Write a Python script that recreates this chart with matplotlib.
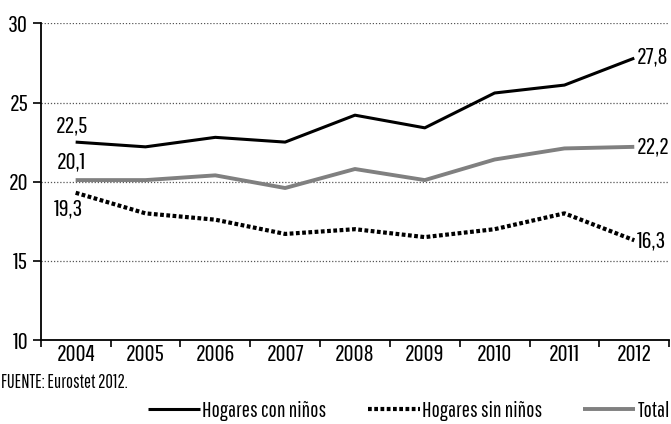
import matplotlib
matplotlib.use("Agg")
import matplotlib.pyplot as plt

years = ["2004", "2005", "2006", "2007", "2008", "2009", "2010", "2011", "2012"]
con_ninos = [22.5, 22.2, 22.8, 22.5, 24.2, 23.4, 25.6, 26.1, 27.8]
sin_ninos = [19.3, 18.0, 17.6, 16.7, 17.0, 16.5, 17.0, 18.0, 16.3]
total = [20.1, 20.1, 20.4, 19.6, 20.8, 20.1, 21.4, 22.1, 22.2]
yticks = [10, 15, 20, 25, 30]

fam = ['Pathway Gothic One', 'DejaVu Sans']
plt.rcParams['font.family'] = fam

fig = plt.figure(figsize=(6.71, 4.24), dpi=100)
ax = fig.add_axes([0.0607, 0.198, 0.9366, 0.747])
x = list(range(len(years)))

ax.plot(x, con_ninos, color='black', lw=2.2, solid_capstyle='butt', label='Hogares con niños', zorder=3)
ax.plot(x, sin_ninos, color='black', lw=3.0, linestyle=(0, (0.9, 0.6)), dash_capstyle='butt', label='Hogares sin niños', zorder=3)
ax.plot(x, total, color='#808080', lw=2.8, solid_capstyle='butt', label='Total', zorder=3)

ax.set_xlim(-0.5, 8.5)
ax.set_ylim(10, 30)
ax.set_yticks(yticks)
ax.set_yticklabels([str(v) for v in yticks])
ax.set_xticks([i + 0.5 for i in range(-1, 9)], minor=False)
ax.set_xticklabels([])
ax.set_xticks(x, minor=True)
ax.set_xticklabels(years, minor=True)
fs = 17.5
ax.tick_params(axis='x', which='major', direction='out', length=5, width=1.2)
ax.tick_params(axis='x', which='minor', length=0, labelsize=fs, pad=3)
ax.tick_params(axis='y', direction='out', length=6, width=1.2, labelsize=fs, pad=3)

for v in [15, 20, 25, 30]:
    ax.axhline(v, color='#555555', lw=0.9, linestyle=(0, (1, 1.5)), zorder=1)

for s in ['top', 'right']:
    ax.spines[s].set_visible(False)
for s in ['left', 'bottom']:
    ax.spines[s].set_linewidth(1.3)

ax.annotate('22,5', (0, con_ninos[0]), xytext=(-3, 4), textcoords='offset points', ha='center', va='bottom', fontsize=fs)
ax.annotate('20,1', (0, total[0]), xytext=(-3, 6), textcoords='offset points', ha='center', va='bottom', fontsize=fs)
ax.annotate('19,3', (0, sin_ninos[0]), xytext=(-5, -4), textcoords='offset points', ha='center', va='top', fontsize=fs)
ax.annotate('27,8', (8, con_ninos[-1]), xytext=(2, 1), textcoords='offset points', ha='left', va='center', fontsize=fs, annotation_clip=False)
ax.annotate('22,2', (8, total[-1]), xytext=(2, 0), textcoords='offset points', ha='left', va='center', fontsize=fs, annotation_clip=False)
ax.annotate('16,3', (8, sin_ninos[-1]), xytext=(2, 0), textcoords='offset points', ha='left', va='center', fontsize=fs, annotation_clip=False)

fig.text(0.002, 1 - 383 / 424, 'FUENTE: Eurostet 2012.', fontsize=13.4, ha='left', va='center')

fig.legend(loc='center right', bbox_to_anchor=(0.999, 1 - 411 / 424), ncol=3, frameon=False,
           fontsize=15.7, handlelength=2.38, handletextpad=0.12, columnspacing=1.88, borderpad=0, borderaxespad=0)

fig.savefig('out.png', dpi=100)
